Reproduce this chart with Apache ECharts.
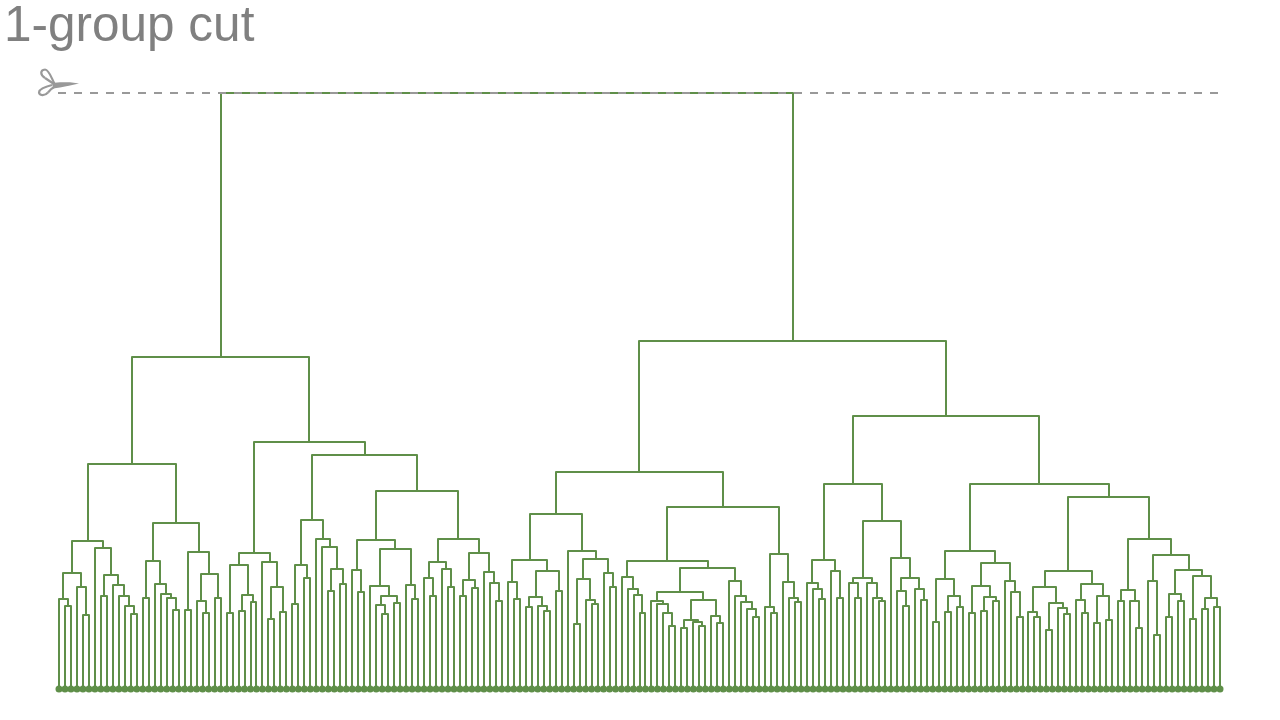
<!DOCTYPE html>
<html><head><meta charset="utf-8">
<style>html,body{margin:0;padding:0;background:#fff}#c{width:1280px;height:720px}</style>
<script src="https://cdn.jsdelivr.net/npm/echarts@6/dist/echarts.min.js"></script>
</head><body><div id="c"></div>
<script>
// Every clade is [mergeHeight, leftChild, rightChild]; a 0 child is a leaf. Leaves run left to right.
const titleText = '1-group cut';
const cutHeight = 596;
const cladeL1 = [225,
  [148,
    [116,[90,0,[83,0,0]],[102,0,[74,0,0]]],
    [141,0,[114,[93,0,0],[104,0,[93,0,[83,0,[75,0,0]]]]]]],
  [166,
    [128,[91,0,0],[105,0,[95,0,[91,0,[79,0,0]]]]],
    [137,[79,0,0],[115,[88,0,[76,0,0]],[91,0,0]]]]];
const cladeB = [136,
  [124,[76,0,0],[94,[78,0,0],[87,0,0]]],
  [127,0,[102,[70,0,0],[77,0,0]]]];
const cladeC = [169,
  [124,[85,0,0],[111,0,0]],
  [150,0,[142,0,[120,[98,0,0],[105,0,0]]]]];
const cladeD = [149,
  [119,0,[97,0,0]],
  [140,[103,0,[93,[84,0,[75,0,0]],[86,0,0]]],[104,0,[90,0,0]]]];
const cladeF = [150,
  [127,[111,0,[93,0,0]],[120,0,[102,0,0]]],
  [136,[109,[93,0,0],[101,0,0]],[117,0,[106,0,[88,0,0]]]]];
const cladeG = [129,
  [107,0,[90,0,0]],
  [118,[92,[82,0,0],[83,0,[78,0,0]]],[98,0,0]]];
const cladeH = [138,0,
  [130,[110,[65,0,0],[89,0,[85,0,0]]],[116,0,[102,0,0]]]];
const cladeI = [112,0,[100,0,[94,0,[76,0,0]]]];
const cladeJ = [97,
  [88,0,[85,0,[76,0,[63,0,0]]]],
  [89,[69,[61,0,0],[67,0,[63,0,0]]],[73,0,[66,0,0]]]];
const cladeK = [108,0,[93,0,[87,0,[80,0,[72,0,0]]]]];
const cladeM = [135,
  [82,0,[76,0,0]],
  [107,0,[91,0,[87,0,0]]]];
const cladeN = [129,
  [106,0,[100,0,[90,0,0]]],
  [118,0,[91,0,0]]];
const cladeO = [111,
  [106,0,[91,0,0]],
  [106,0,[91,0,[88,0,0]]]];
const cladeP = [131,0,
  [111,[98,0,[83,0,0]],[100,0,[89,0,0]]]];
const cladeQ = [110,[67,0,0],[93,[77,0,0],[82,0,0]]];
const cladeR = [103,[76,0,0],[92,[78,0,0],[88,0,0]]];
const cladeS = [108,0,[97,0,[72,0,0]]];
const cladeT = [102,
  [77,0,[72,0,0]],
  [86,[59,0,0],[81,0,[75,0,0]]]];
const cladeU = [105,
  [89,0,[76,0,0]],
  [93,[66,0,0],[69,0,0]]];
const cladeV = [99,[88,0,0],[88,0,[61,0,0]]];
const cladeX = [108,0,[54,0,0]];
const cladeW = [119,
  [95,[72,0,0],[88,0,0]],
  [113,[70,0,0],[91,[80,0,0],[82,0,0]]]];

const cladeLeft = [332, cladeL1,
  [247, cladeB, [234, cladeC, [198, cladeD, cladeF]]]];
const cladeRightA = [217,
  [175, cladeG, cladeH],
  [182, [128, cladeI, [121, cladeJ, cladeK]], cladeM]];
const cladeRightB = [273,
  [205, cladeN, [168, cladeO, cladeP]],
  [205,
    [138, cladeQ, [126, cladeR, cladeS]],
    [192, [118, cladeT, cladeU], [150, cladeV, [134, cladeX, cladeW]]]]];
const tree = [596, cladeLeft, [348, cladeRightA, cladeRightB]];

// Walk the tree: leaves take consecutive positions, a merge sits midway between its children.
const merges = [], leaves = [];
function walk(n) {
  if (n === 0) { const x = leaves.length; leaves.push([x, 0]); return [x, 0]; }
  const a = walk(n[1]), b = walk(n[2]);
  merges.push([a[0], a[1], b[0], b[1], n[0]]);
  return [(a[0] + b[0]) / 2, n[0]];
}
walk(tree);
const lastLeaf = leaves.length - 1;

const green = '#5f8f49', gray = '#999999';
function curve(x1, y1, cx1, cy1, cx2, cy2, x2, y2) {
  return {type: 'bezierCurve', z: 5, silent: true,
    shape: {x1: x1, y1: y1, cpx1: cx1, cpy1: cy1, cpx2: cx2, cpy2: cy2, x2: x2, y2: y2},
    style: {fill: null, stroke: gray, lineWidth: 2.2}};
}
const chart = echarts.init(document.getElementById('c'), null, {renderer: 'canvas'});
chart.setOption({
  animation: false,
  backgroundColor: '#fff',
  title: {text: titleText, left: -1, top: -3,
    textStyle: {fontFamily: 'Liberation Sans, Arial, sans-serif', fontSize: 49.5, fontWeight: 'normal', color: '#808080'}},
  grid: {left: 59, right: 60, top: 93, bottom: 31},
  xAxis: {type: 'value', min: 0, max: lastLeaf, show: false},
  yAxis: {type: 'value', min: 0, max: cutHeight, show: false},
  graphic: [
    curve(56, 86, 52, 81, 50, 70, 45, 69.5),
    curve(45, 69.5, 40, 70, 40, 75, 45, 78),
    curve(45, 78, 48, 80, 51, 82, 54, 84),
    curve(52, 85, 48, 86, 40, 88, 39, 92),
    curve(39, 92, 39, 96, 45, 96, 48, 92.5),
    curve(48, 92.5, 50, 90, 52, 88, 55, 86.5),
    {type: 'polygon', z: 5, silent: true,
      shape: {points: [[52, 83], [60, 82.2], [70, 82.2], [79, 83.5], [70, 85.5], [60, 87.5], [53, 88.5]]},
      style: {fill: gray, stroke: null}}
  ],
  series: [
    {type: 'custom', coordinateSystem: 'cartesian2d', silent: true, z: 2, clip: false,
      data: merges,
      encode: {x: [0, 2], y: [1, 3, 4]},
      renderItem: function (params, api) {
        const p = [[api.value(0), api.value(1)], [api.value(0), api.value(4)],
                   [api.value(2), api.value(4)], [api.value(2), api.value(3)]].map(function (d) {
          const c = api.coord(d);
          return [Math.round(c[0]), Math.round(c[1])];
        });
        return {type: 'polyline', shape: {points: p},
          style: {fill: null, stroke: green, lineWidth: 2, lineJoin: 'round'}};
      }},
    {type: 'scatter', silent: true, z: 3, data: leaves, symbol: 'circle', symbolSize: 7,
      itemStyle: {color: green, opacity: 1}},
    {type: 'custom', coordinateSystem: 'cartesian2d', silent: true, z: 4, clip: false,
      data: [[0, cutHeight, lastLeaf]],
      encode: {x: [0, 2], y: 1},
      renderItem: function (params, api) {
        const a = api.coord([api.value(0), api.value(1)]), b = api.coord([api.value(2), api.value(1)]);
        const y = Math.round(a[1]), children = [];
        for (let x = a[0] - 1; x < b[0] - 2; x += 16) {
          children.push({type: 'rect', shape: {x: Math.round(x), y: y - 1, width: 8, height: 2},
            style: {fill: gray}});
        }
        return {type: 'group', children: children};
      }}
  ]
});
</script></body></html>
